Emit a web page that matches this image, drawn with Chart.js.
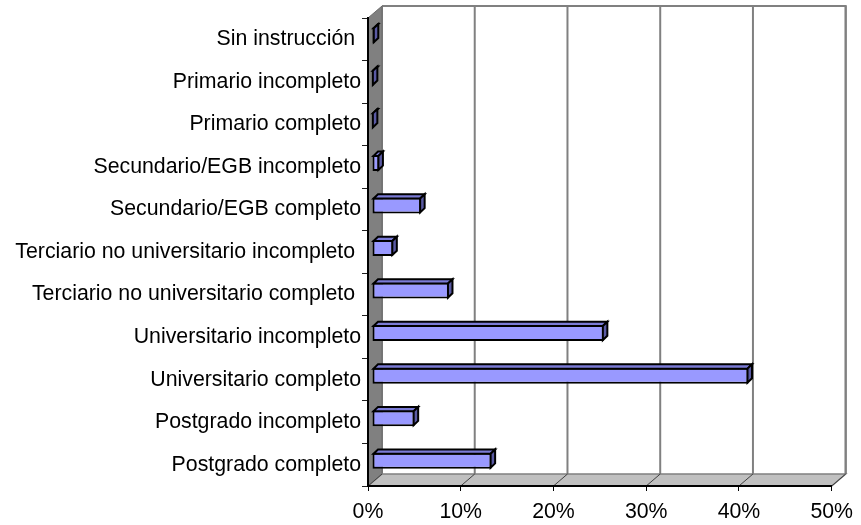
<!DOCTYPE html>
<html lang="es">
<head>
<meta charset="utf-8">
<title>Nivel educativo</title>
<script src="https://cdn.jsdelivr.net/npm/chart.js@4.4.1/dist/chart.umd.min.js"></script>
<style>
  html, body { margin: 0; padding: 0; background: #ffffff; }
  #wrap { width: 861px; height: 525px; }
</style>
</head>
<body>
<div id="wrap"><canvas id="chart" width="861" height="525"></canvas></div>
<script>
// Nivel educativo alcanzado (porcentaje del total)
const categories = [
  'Sin instrucción ',
  'Primario incompleto',
  'Primario completo',
  'Secundario/EGB incompleto',
  'Secundario/EGB completo',
  'Terciario no universitario incompleto ',
  'Terciario no universitario completo ',
  'Universitario incompleto',
  'Universitario completo',
  'Postgrado incompleto',
  'Postgrado completo'
];
const shares = [0.3, 0.2, 0.2, 0.8, 5.3, 2.3, 8.3, 25.0, 40.6, 4.6, 12.9];
const xTicks = [0, 10, 20, 30, 40, 50];

// 3D box geometry: back plane offset from the front plane, and the bar slab
const DEPTH_X = 14, DEPTH_Y = -12;
const BAR_X = 4, BAR_Y = -4;
const BAR_DEPTH_X = 4.5, BAR_DEPTH_Y = -4.3;

const FONT = { family: '"Liberation Sans", Arial, sans-serif', size: 21.3 };

function poly(ctx, pts) {
  ctx.beginPath();
  ctx.moveTo(pts[0][0], pts[0][1]);
  for (let i = 1; i < pts.length; i++) ctx.lineTo(pts[i][0], pts[i][1]);
  ctx.closePath();
}

const depthBox = {
  id: 'depthBox',
  beforeDraw(chart) {
    const { ctx, chartArea: a, scales } = chart;
    const L = a.left, R = a.right, T = a.top, B = a.bottom;
    ctx.save();
    // back wall
    ctx.fillStyle = '#ffffff';
    ctx.fillRect(L + DEPTH_X, T + DEPTH_Y, R - L, B - T);
    ctx.strokeStyle = '#808080';
    ctx.lineWidth = 2;
    ctx.beginPath();
    ctx.moveTo(L + DEPTH_X, T + DEPTH_Y);
    ctx.lineTo(R + DEPTH_X, T + DEPTH_Y);
    ctx.lineTo(R + DEPTH_X, B + DEPTH_Y);
    ctx.stroke();
    // vertical gridlines on the back wall
    xTicks.forEach(v => {
      const x = scales.x.getPixelForValue(v) + DEPTH_X;
      ctx.beginPath();
      ctx.moveTo(x, T + DEPTH_Y);
      ctx.lineTo(x, B + DEPTH_Y);
      ctx.stroke();
    });
    // side wall
    poly(ctx, [[L, T], [L + DEPTH_X, T + DEPTH_Y], [L + DEPTH_X, B + DEPTH_Y], [L, B]]);
    ctx.fillStyle = '#808080';
    ctx.fill();
    ctx.lineWidth = 1;
    ctx.strokeStyle = '#6a6a6a';
    ctx.stroke();
    // floor
    poly(ctx, [[L, B], [R, B], [R + DEPTH_X, B + DEPTH_Y], [L + DEPTH_X, B + DEPTH_Y]]);
    ctx.fillStyle = '#c0c0c0';
    ctx.fill();
    ctx.strokeStyle = '#808080';
    ctx.lineWidth = 1.5;
    ctx.stroke();
    // gridlines across the floor
    ctx.strokeStyle = '#404040';
    ctx.lineWidth = 1;
    xTicks.forEach(v => {
      const x = scales.x.getPixelForValue(v);
      ctx.beginPath();
      ctx.moveTo(x, B);
      ctx.lineTo(x + DEPTH_X, B + DEPTH_Y);
      ctx.stroke();
    });
    ctx.restore();
  },
  beforeDatasetsDraw(chart) {
    chart.ctx.save();
    chart.ctx.translate(BAR_X, BAR_Y);
  },
  afterDatasetsDraw(chart) {
    const ctx = chart.ctx;
    const meta = chart.getDatasetMeta(0);
    ctx.lineWidth = 2;
    ctx.lineJoin = 'miter';
    ctx.strokeStyle = '#000000';
    meta.data.forEach(bar => {
      const p = bar.getProps(['x', 'y', 'base', 'height'], true);
      const l = Math.min(p.x, p.base) + 1, r = Math.max(p.x, p.base) - 1;
      const t = p.y - p.height / 2 + 1, b = p.y + p.height / 2 - 1;
      // top face
      poly(ctx, [[l, t], [r, t], [r + BAR_DEPTH_X, t + BAR_DEPTH_Y], [l + BAR_DEPTH_X, t + BAR_DEPTH_Y]]);
      ctx.fillStyle = '#7b7bd6';
      ctx.fill();
      ctx.stroke();
      // end face
      poly(ctx, [[r, t], [r + BAR_DEPTH_X, t + BAR_DEPTH_Y], [r + BAR_DEPTH_X, b + BAR_DEPTH_Y], [r, b]]);
      ctx.fillStyle = '#5a5aa3';
      ctx.fill();
      ctx.stroke();
    });
    ctx.restore();
  }
};

new Chart(document.getElementById('chart'), {
  type: 'bar',
  data: {
    labels: categories,
    datasets: [{
      data: shares,
      backgroundColor: '#9999ff',
      borderColor: '#000000',
      borderWidth: 2,
      borderSkipped: false,
      categoryPercentage: 1,
      barPercentage: 0.376,
      clip: false
    }]
  },
  options: {
    indexAxis: 'y',
    responsive: false,
    animation: false,
    events: [],
    layout: { padding: { top: 18, right: 23, left: 0, bottom: 0 } },
    plugins: { legend: { display: false }, tooltip: { enabled: false } },
    scales: {
      x: {
        type: 'linear',
        min: 0,
        max: 50,
        afterBuildTicks(scale) { scale.ticks = xTicks.map(v => ({ value: v })); },
        afterFit(scale) { scale.height = 39; },
        grid: { drawOnChartArea: false, drawTicks: true, tickLength: 5, tickColor: '#000000', lineWidth: 1 },
        border: { display: true, color: '#000000', width: 2 },
        ticks: { font: FONT, color: '#000000', padding: 8, maxRotation: 0, callback: v => v + '%' }
      },
      y: {
        type: 'category',
        afterFit(scale) { scale.width = 368; },
        grid: { drawOnChartArea: false, drawTicks: true, tickLength: 6, tickColor: '#202020', lineWidth: 1, offset: true },
        border: { display: true, color: '#000000', width: 2 },
        ticks: { font: FONT, color: '#000000', padding: 1, autoSkip: false }
      }
    }
  },
  plugins: [depthBox]
});
</script>
</body>
</html>
